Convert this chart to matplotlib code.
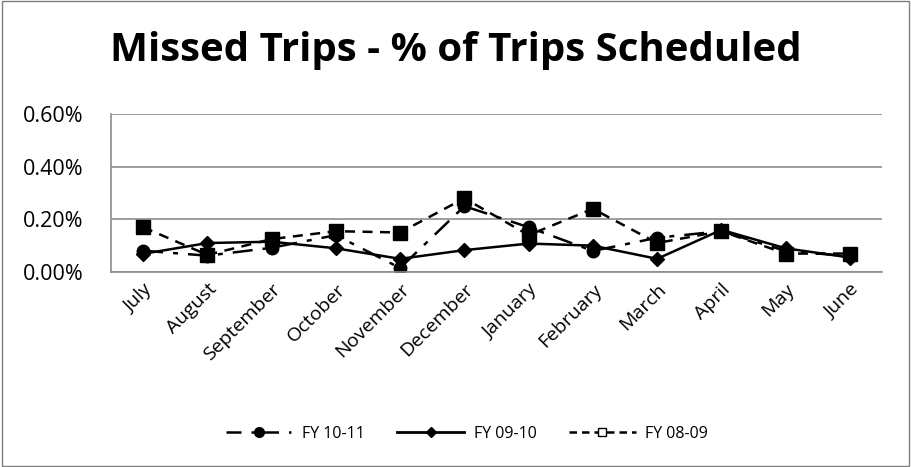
import matplotlib
matplotlib.use("Agg")
import matplotlib.pyplot as plt
from matplotlib.lines import Line2D
from matplotlib.patches import Rectangle
from matplotlib.ticker import FuncFormatter

months = ["July", "August", "September", "October", "November", "December",
          "January", "February", "March", "April", "May", "June"]
fy1011 = [0.081, 0.062, 0.092, 0.14, 0.015, 0.25, 0.17, 0.08, 0.13, 0.155, 0.08, 0.06]
fy0910 = [0.069, 0.11, 0.115, 0.09, 0.05, 0.083, 0.108, 0.10, 0.05, 0.16, 0.09, 0.055]
fy0809 = [0.17, 0.065, 0.125, 0.155, 0.15, 0.28, 0.14, 0.24, 0.11, 0.155, 0.07, 0.07]
yticks = [0.0, 0.2, 0.4, 0.6]

plt.rcParams['font.family'] = ['Open Sans', 'DejaVu Sans']

fig = plt.figure(figsize=(9.11, 4.67), dpi=100)
fig.patches.append(Rectangle((0.002, 0.003), 0.996, 0.994, transform=fig.transFigure,
                             fill=False, edgecolor='#7f7f7f', linewidth=1))
ax = fig.add_axes([111/911, 1-272/467, (882-111)/911, (272-114)/467])
x = list(range(len(months)))

ax.plot(x, fy1011, color='black', linewidth=1.8, dashes=(8, 4, 2, 4), marker='o', markersize=9)
ax.plot(x, fy0910, color='black', linewidth=1.8, linestyle='-', marker='D', markersize=7.5)
ax.plot(x, fy0809, color='black', linewidth=1.8, dashes=(4, 3), marker='s', markersize=10)

ax.set_xlim(-0.5, len(months) - 0.5)
ax.set_ylim(0, 0.6)
ax.set_yticks(yticks)
ax.yaxis.set_major_formatter(FuncFormatter(lambda v, p: f"{v:.2f}%"))
ax.grid(axis='y', color='#8c8c8c', linewidth=1.2)
ax.set_axisbelow(True)
for s in ['top', 'right']:
    ax.spines[s].set_visible(False)
ax.spines['left'].set_color('#8c8c8c')
ax.spines['bottom'].set_color('#8c8c8c')
ax.spines['left'].set_linewidth(1.2)
ax.spines['bottom'].set_linewidth(1.2)
ax.tick_params(axis='y', length=0, labelsize=15.5, pad=20)
ax.tick_params(axis='x', length=0, labelsize=14, pad=6)
ax.set_xticks(x)
ax.set_xticklabels(months, rotation=45, ha='right', rotation_mode='anchor')

fig.text(0.5, 1-50/467, "Missed Trips - % of Trips Scheduled", ha='center', va='center',
         fontsize=29, fontweight='bold')

handles = [
    Line2D([], [], color='black', linewidth=1.8, dashes=(6, 4, 1, 4), marker='o', markersize=7),
    Line2D([], [], color='black', linewidth=2, linestyle='-', marker='D', markersize=5),
    Line2D([], [], color='black', linewidth=1.8, dashes=(3, 2), marker='s', markersize=6,
           markerfacecolor='white'),
]
fig.legend(handles, ["FY 10-11", "FY 09-10", "FY 08-09"], loc='center',
           bbox_to_anchor=(467/911, 1-434/467), ncol=3, frameon=False, fontsize=11.5,
           handlelength=4.2, handletextpad=0.6, columnspacing=2.0)

fig.savefig("out.png", dpi=100)
